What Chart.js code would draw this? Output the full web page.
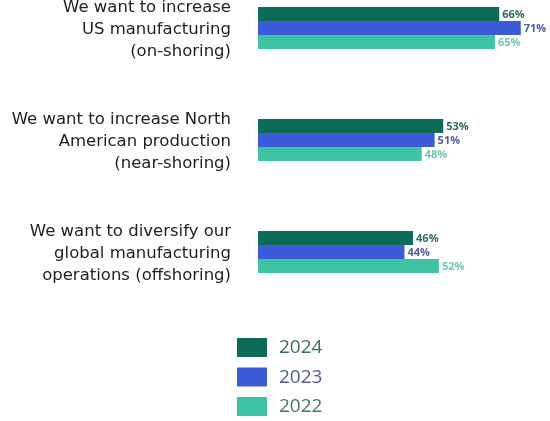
<!DOCTYPE html>
<html>
<head>
<meta charset="utf-8">
<script src="https://cdn.jsdelivr.net/npm/chart.js@4.4.1/dist/chart.umd.min.js"></script>
<style>
  html, body { margin: 0; padding: 0; background: #fff; }
  #wrap { width: 550px; height: 421px; position: relative; }
</style>
</head>
<body>
<div id="wrap"><canvas id="reshoringChart"></canvas></div>
<script>
// Chart data
const categories = [
    ['We want to increase', 'US manufacturing', '(on-shoring)'],
    ['We want to increase North', 'American production', '(near-shoring)'],
    ['We want to diversify our', 'global manufacturing', 'operations (offshoring)']
];
const years = ['2024', '2023', '2022'];
const values2024 = [66, 53, 46];
const values2023 = [71, 51, 44];
const values2022 = [65, 48, 52];

const barColors = ['#0d6b59', '#3b5bd8', '#3ec4a5'];
const labelColors = ['#2f6a5e', '#505ca6', '#6cc6b2'];
const legendTextColors = ['#3e6b63', '#5059a0', '#3f7a70'];

// Percent labels at the end of each bar
const valueLabels = {
    id: 'valueLabels',
    afterDatasetsDraw(chart) {
        const ctx = chart.ctx;
        ctx.save();
        ctx.font = 'bold 11px "Open Sans"';
        ctx.textBaseline = 'middle';
        ctx.textAlign = 'left';
        chart.data.datasets.forEach((ds, i) => {
            const meta = chart.getDatasetMeta(i);
            ctx.fillStyle = labelColors[i];
            meta.data.forEach((bar, j) => {
                ctx.fillText(ds.data[j] + '%', bar.x + 3, bar.y + 1);
            });
        });
        ctx.restore();
    }
};

// Vertical legend under the bars
const stackedLegend = {
    id: 'stackedLegend',
    afterDraw(chart) {
        const ctx = chart.ctx;
        ctx.save();
        ctx.font = '19px "Open Sans"';
        ctx.textBaseline = 'middle';
        chart.data.datasets.forEach((ds, i) => {
            const y = 338 + i * 29.5;
            ctx.fillStyle = ds.backgroundColor;
            ctx.fillRect(237, y, 30, 19);
            ctx.fillStyle = legendTextColors[i];
            ctx.fillText(ds.label, 279, y + 10);
        });
        ctx.restore();
    }
};

const ctx = document.getElementById('reshoringChart');

new Chart(ctx, {
    type: 'bar',
    data: {
        labels: categories,
        datasets: [
            { label: years[0], data: values2024, backgroundColor: barColors[0] },
            { label: years[1], data: values2023, backgroundColor: barColors[1] },
            { label: years[2], data: values2022, backgroundColor: barColors[2] }
        ].map(d => Object.assign(d, { base: 10, clip: false, categoryPercentage: 0.375, barPercentage: 1 }))
    },
    options: {
        indexAxis: 'y',
        responsive: true,
        maintainAspectRatio: false,
        animation: false,
        layout: {
            // first/last category centres at y=28 and y=252
            padding: { top: 28, bottom: 169, left: 0, right: 12 }
        },
        plugins: {
            legend: { display: false },
            tooltip: { enabled: false }
        },
        scales: {
            x: {
                display: false,
                min: 10,
                max: 75
            },
            y: {
                offset: false,
                grid: { display: false, drawTicks: false },
                border: { display: false },
                ticks: {
                    padding: 27,
                    labelOffset: 2,
                    color: '#222222',
                    font: { family: 'DejaVu Sans', size: 16.5, lineHeight: 1.333 }
                },
                afterFit(scale) {
                    scale.width = 258;
                    // labels may overflow the area, don't let them push it
                    scale.paddingTop = 0;
                    scale.paddingBottom = 0;
                }
            }
        }
    },
    plugins: [valueLabels, stackedLegend]
});
</script>
</body>
</html>
